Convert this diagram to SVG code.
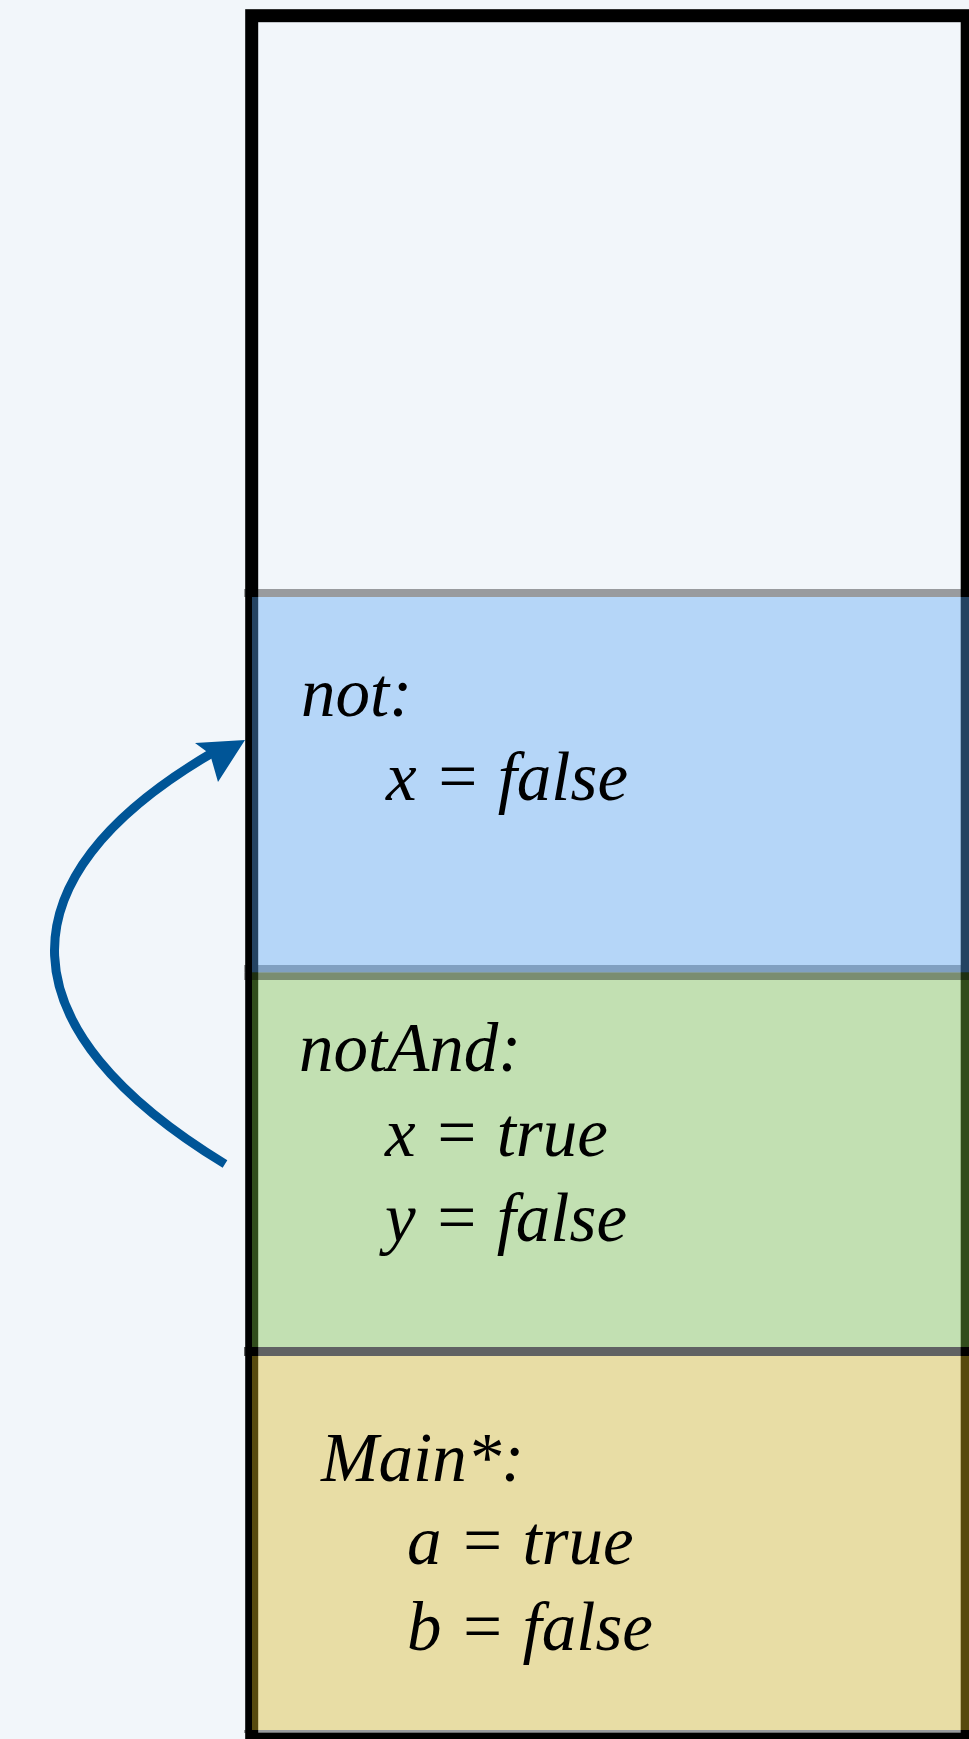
<svg xmlns="http://www.w3.org/2000/svg" width="969" height="1739" viewBox="0 0 969 1739">
  <style>
    .frame { fill: none; stroke: #000000; stroke-width: 13; }
    .edge { fill: #000000; fill-opacity: 0.37; }
    .blue { fill: #5aa8f5; fill-opacity: 0.4; }
    .green { fill: #7ac146; fill-opacity: 0.4; }
    .yellow { fill: #d9ba26; fill-opacity: 0.4; }
    .label { font-family: "Liberation Serif", "Times New Roman", serif; font-style: italic; font-size: 69px; fill: #000000; }
    .call { fill: none; stroke: #005597; stroke-width: 9; }
    .head { fill: #005597; }
  </style>

  <!-- background -->
  <rect x="0" y="0" width="969" height="1739" fill="#f2f6fa"/>

  <!-- stack outline -->
  <rect id="stack" class="frame" x="251.7" y="15.7" width="715.5" height="1723.5"/>

  <!-- frame: not -->
  <g id="frame-not">
    <rect class="edge" x="244" y="589" width="730" height="8"/>
    <rect class="edge" x="244" y="965" width="730" height="7.5"/>
    <rect class="blue" x="252" y="597" width="722" height="375.5"/>
    <text class="label" x="301" y="716">not:</text>
    <text class="label" x="386" y="800">x = false</text>
  </g>

  <!-- frame: notAnd -->
  <g id="frame-notAnd">
    <rect class="green" x="252" y="972.5" width="722" height="374.5"/>
    <rect class="edge" x="244" y="972.5" width="730" height="7.5"/>
    <rect class="edge" x="244" y="1347" width="730" height="9"/>
    <text class="label" x="299" y="1071">notAnd:</text>
    <text class="label" x="385" y="1156">x = true</text>
    <text class="label" x="385" y="1241">y = false</text>
  </g>

  <!-- frame: Main* -->
  <g id="frame-main">
    <rect class="edge" x="244" y="1347" width="730" height="9"/>
    <rect class="yellow" x="252" y="1356" width="722" height="374"/>
    <rect class="edge" x="244" y="1730" width="730" height="3"/>
    <text class="label" x="321" y="1481">Main*:</text>
    <text class="label" x="407" y="1564">a = true</text>
    <text class="label" x="407" y="1650">b = false</text>
  </g>

  <!-- call arrow from notAnd into not -->
  <g id="connectors">
    <path class="call" d="M225,1164 C5,1030 -5,880 212,753"/>
    <polygon class="head" points="245,740 195,743 210,754 218,782"/>
  </g>
</svg>
